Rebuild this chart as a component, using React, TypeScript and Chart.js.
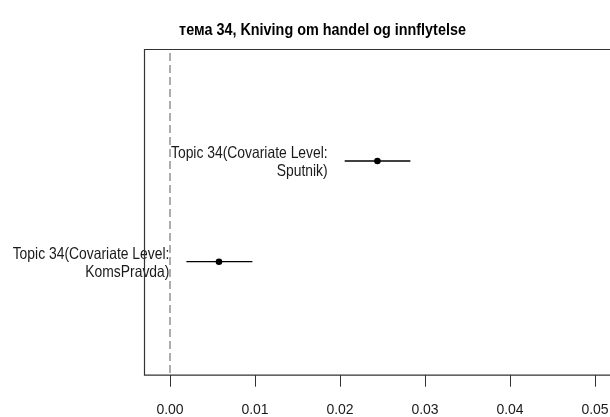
import React, { useEffect, useRef } from "react";
import { Chart, registerables } from "chart.js";

Chart.register(...registerables);

const TITLE = "тема 34, Kniving om handel og innflytelse";
const LABEL_LINES = [
  ["Topic 34(Covariate Level:", "Sputnik)"],
  ["Topic 34(Covariate Level:", "KomsPravda)"],
];
const POSITIONS = [2, 1];
const MEANS = [0.0244, 0.00576];
const LOWER = [0.02055, 0.00193];
const UPPER = [0.02828, 0.00969];
const X_TICKS = [0, 0.01, 0.02, 0.03, 0.04, 0.05];
const X_MIN = -0.00306;
const X_MAX = 0.05529;
const Y_MIN = -0.122;
const Y_MAX = 3.112;

const FAMILY = "'Liberation Sans', Arial, Helvetica, sans-serif";

function stretchedText(
  ctx: CanvasRenderingContext2D,
  text: string,
  x: number,
  capCenterY: number,
  align: CanvasTextAlign,
  size: number,
  bold: boolean,
  sy: number,
  color: string
) {
  ctx.save();
  ctx.font = `${bold ? "bold " : ""}${size}px ${FAMILY}`;
  ctx.fillStyle = color;
  ctx.textAlign = align;
  ctx.textBaseline = "alphabetic";
  const baseline = capCenterY + 0.358 * size * sy;
  ctx.translate(x, baseline);
  ctx.scale(1, sy);
  ctx.fillText(text, 0, 0);
  ctx.restore();
}

function drawBoxEdges(chart: any) {
  const { ctx, chartArea } = chart;
  ctx.save();
  ctx.strokeStyle = "#333";
  ctx.lineWidth = 1.2;
  ctx.beginPath();
  ctx.moveTo(chart.width + 5, chartArea.top + 0.5);
  ctx.lineTo(chartArea.left + 0.5, chartArea.top + 0.5);
  ctx.lineTo(chartArea.left + 0.5, chartArea.bottom + 0.5);
  ctx.lineTo(chart.width + 5, chartArea.bottom + 0.5);
  ctx.stroke();
  ctx.restore();
}

const overlay = {
  id: "overlay",
  beforeDatasetsDraw(chart: any) {
    const { ctx, chartArea, scales } = chart;
    const x0 = Math.round(scales.x.getPixelForValue(0));
    ctx.save();
    ctx.strokeStyle = "#5a5a5a";
    ctx.lineWidth = 1;
    ctx.setLineDash([8, 4]);
    ctx.beginPath();
    ctx.moveTo(x0, chartArea.top + 4);
    ctx.lineTo(x0, chartArea.bottom);
    ctx.stroke();
    ctx.restore();
  },
  afterDatasetsDraw(chart: any) {
    const { ctx, scales } = chart;
    LABEL_LINES.forEach((lines, i) => {
      const xr = scales.x.getPixelForValue(LOWER[i]) - 17;
      const yc = scales.y.getPixelForValue(POSITIONS[i]);
      stretchedText(ctx, lines[0], xr, yc - 8.9, "right", 13.9, false, 1.2, "#1a1a1a");
      stretchedText(ctx, lines[1], xr, yc + 8.9, "right", 13.9, false, 1.2, "#1a1a1a");
    });
    stretchedText(ctx, TITLE, 322.5, 29.2, "center", 14.4, true, 1.14, "#000");
  },
  afterDraw(chart: any) {
    const { ctx, chartArea } = chart;
    // keep the open right side of the plot region clean
    ctx.save();
    ctx.fillStyle = "#fff";
    ctx.fillRect(602, chartArea.top + 2, 14, chartArea.bottom - chartArea.top - 3);
    ctx.restore();
    drawBoxEdges(chart);
  },
};

export default function App() {
  const ref = useRef<HTMLCanvasElement | null>(null);

  useEffect(() => {
    if (!ref.current) return;
    const ciSets = POSITIONS.map((p, i) => ({
      type: "line" as const,
      data: [
        { x: LOWER[i], y: p },
        { x: UPPER[i], y: p },
      ],
      borderColor: "#000",
      borderWidth: 1.3,
      pointRadius: 0,
      showLine: true,
    }));
    const pointSet = {
      type: "scatter" as const,
      data: MEANS.map((m, i) => ({ x: m, y: POSITIONS[i] })),
      backgroundColor: "#000",
      borderColor: "#000",
      borderWidth: 0,
      pointRadius: 3.3,
    };
    const chart = new Chart(ref.current, {
      type: "scatter",
      data: { datasets: [...ciSets, pointSet] as any },
      options: {
        responsive: false,
        devicePixelRatio: 1,
        animation: false,
        layout: { padding: { left: 144, top: 49, right: 60, bottom: 0 } },
        plugins: {
          legend: { display: false },
          tooltip: { enabled: false },
          title: { display: false },
        },
        scales: {
          x: {
            type: "linear",
            min: X_MIN,
            max: X_MAX,
            afterBuildTicks: (s: any) => {
              s.ticks = X_TICKS.map((v) => ({ value: v }));
            },
            afterFit: (s: any) => {
              s.height = 42.3;
              s.paddingLeft = 0;
              s.paddingRight = 0;
            },
            ticks: {
              callback: (v: any) => Number(v).toFixed(2),
              font: { family: FAMILY, size: 14 },
              color: "#1a1a1a",
              padding: 15,
              maxRotation: 0,
              autoSkip: false,
            },
            grid: {
              drawOnChartArea: false,
              drawTicks: true,
              tickLength: 12,
              color: "#333",
              lineWidth: 1,
            },
            border: { display: false },
          },
          y: {
            type: "linear",
            min: Y_MIN,
            max: Y_MAX,
            display: false,
          },
        },
      },
      plugins: [overlay],
    });
    return () => chart.destroy();
  }, []);

  return (
    <div
      style={{
        position: "fixed",
        left: 0,
        top: 0,
        width: 610,
        height: 417,
        overflow: "hidden",
        background: "#fff",
      }}
    >
      <canvas
        ref={ref}
        width={700}
        height={417}
        style={{ display: "block", width: 700, height: 417 }}
      />
    </div>
  );
}
